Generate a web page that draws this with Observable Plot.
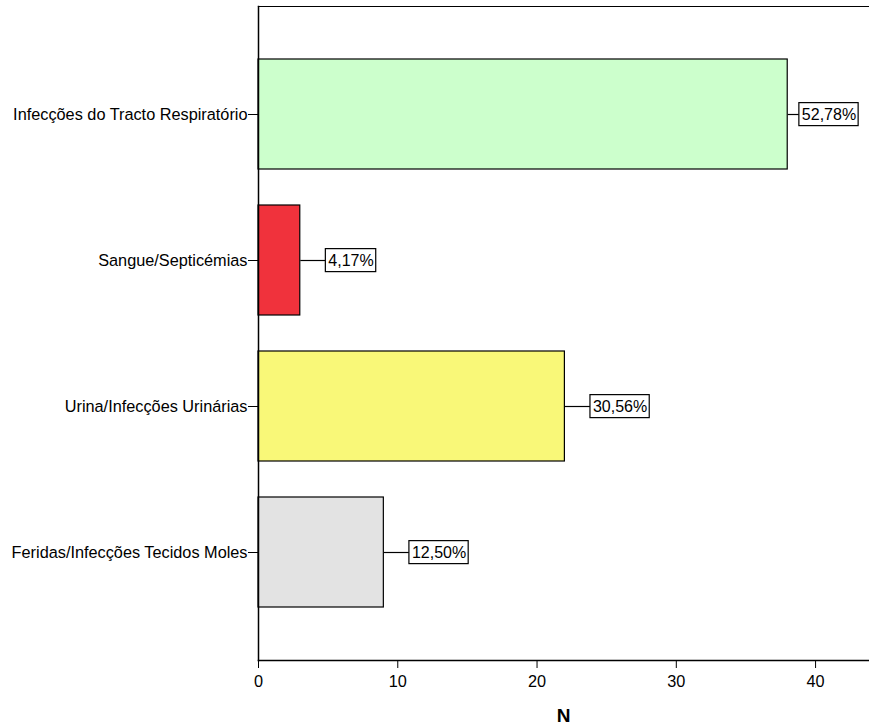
<!DOCTYPE html>
<html>
<head>
<meta charset="utf-8">
<script src="https://cdn.jsdelivr.net/npm/d3@7"></script>
<script src="https://cdn.jsdelivr.net/npm/@observablehq/plot@0.6"></script>
<style>
  html, body { margin: 0; padding: 0; background: #fff; }
  #chart svg { display: block; }
</style>
</head>
<body>
<div id="chart"></div>
<script>
const categories = [
  "Infecções do Tracto Respiratório",
  "Sangue/Septicémias",
  "Urina/Infecções Urinárias",
  "Feridas/Infecções Tecidos Moles"
];
const counts = [38, 3, 22, 9];
const percentLabels = ["52,78%", "4,17%", "30,56%", "12,50%"];
const barColors = ["#ccffcc", "#f0323c", "#f9f878", "#e3e3e3"];
const xTicks = [0, 10, 20, 30, 40];

const data = categories.map((c, i) => ({category: c, n: counts[i], label: percentLabels[i], color: barColors[i]}));
const GAP = 1.8;        // preferred label offset in N units
const MAX_LABEL_X = 38.8; // keep label boxes inside the plot
const labelX = d => Math.min(d.n + GAP, Math.max(d.n + 0.7, MAX_LABEL_X));

const chart = Plot.plot({
  width: 869,
  height: 726,
  marginLeft: 258,
  marginTop: 6,
  marginRight: 1,
  marginBottom: 66,
  style: {fontFamily: "'Liberation Sans', Arial, sans-serif", fontSize: "16.3px", color: "#000", background: "#fff"},
  x: {domain: [0, 43.8], ticks: xTicks, tickSize: 8, tickPadding: 7, label: "N", labelArrow: "none", labelAnchor: "center", labelOffset: 61, tickFormat: d => String(d)},
  y: {domain: categories, paddingInner: 0.25, paddingOuter: 0.35, tickSize: 10, tickPadding: 1, label: null},
  marks: [
    Plot.barX(data, {x: "n", y: "category", fill: "color", stroke: "#000", strokeWidth: 1.2}),
    Plot.link(data, {x1: "n", x2: labelX, y1: "category", y2: "category", stroke: "#000", strokeWidth: 1.2}),
    Plot.text(data, {x: labelX, y: "category", text: "label", textAnchor: "start", dx: 3, fill: "#000", fontSize: 16, className: "pctlabel"}),
    Plot.frame({anchor: "top", stroke: "#000", strokeWidth: 1.2}),
    Plot.frame({anchor: "left", stroke: "#000", strokeWidth: 1.5}),
    Plot.frame({anchor: "bottom", stroke: "#000", strokeWidth: 1.5})
  ]
});
document.getElementById("chart").appendChild(chart);

// boxes behind percentage labels
chart.querySelectorAll("g.pctlabel text").forEach(t => {
  const b = t.getBBox();
  const r = document.createElementNS("http://www.w3.org/2000/svg", "rect");
  r.setAttribute("x", b.x - 3);
  r.setAttribute("y", b.y - 3);
  r.setAttribute("width", b.width + 5);
  r.setAttribute("height", b.height + 6);
  r.setAttribute("fill", "#fff");
  r.setAttribute("stroke", "#000");
  r.setAttribute("stroke-width", 1.2);
  if (t.getAttribute("transform")) r.setAttribute("transform", t.getAttribute("transform"));
  t.parentNode.insertBefore(r, t);
});
// bold axis label
chart.querySelectorAll("[aria-label='x-axis label'] text").forEach(t => {
  t.setAttribute("font-weight", "bold");
  t.setAttribute("font-size", "19");
});
</script>
</body>
</html>
